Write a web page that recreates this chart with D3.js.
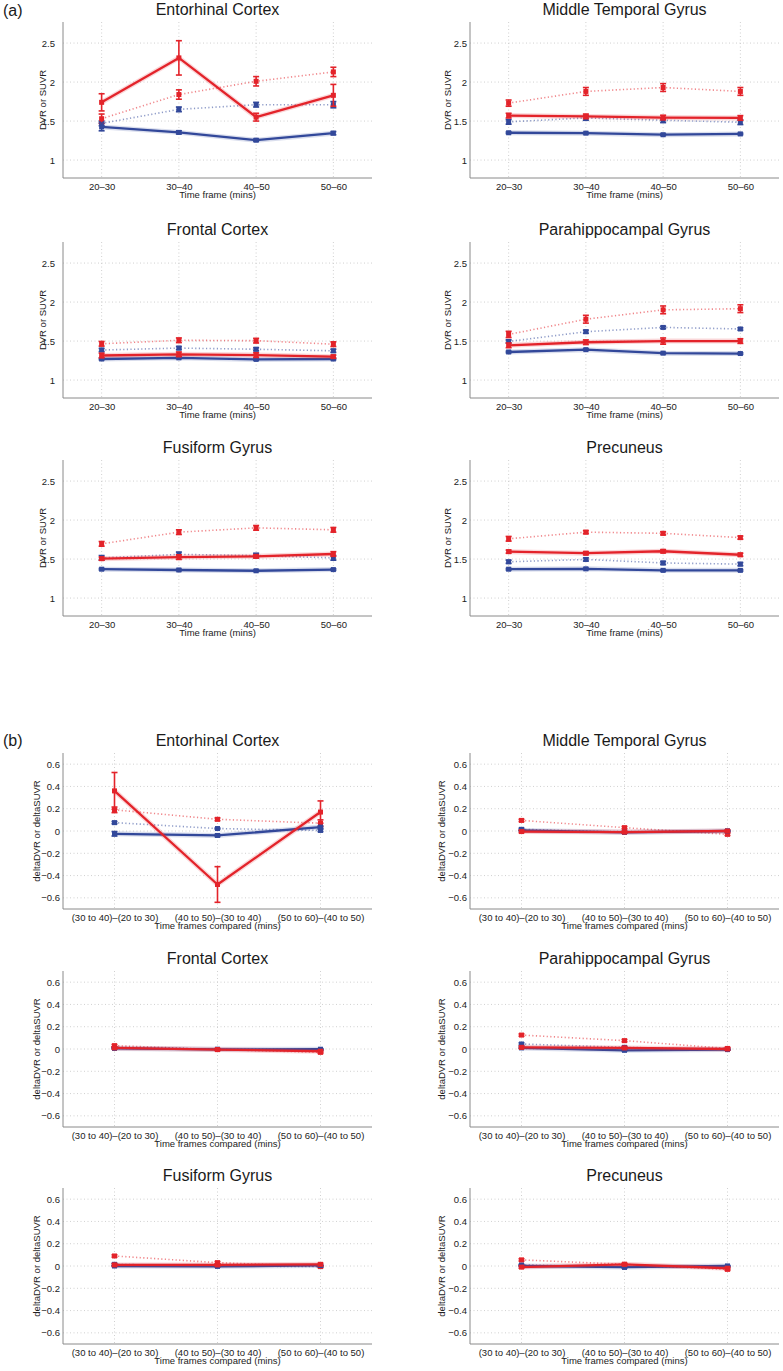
<!DOCTYPE html>
<html><head><meta charset="utf-8">
<script src="https://cdn.jsdelivr.net/npm/d3@7"></script>
<style>
body{margin:0;background:#fff;}
svg{display:block;font-family:"Liberation Sans",Arial,Helvetica,sans-serif;}
</style></head>
<body><svg id="c" width="783" height="1371"></svg>
<script>
// ---------- data ----------
const regions = ["Entorhinal Cortex","Middle Temporal Gyrus","Frontal Cortex","Parahippocampal Gyrus","Fusiform Gyrus","Precuneus"];
const timeFrames = ["20–30","30–40","40–50","50–60"];
const comparisons = ["(30 to 40)–(20 to 30)","(40 to 50)–(30 to 40)","(50 to 60)–(40 to 50)"];
const yTicksA = [1,1.5,2,2.5];
const yTicksB = [-0.6,-0.4,-0.2,0,0.2,0.4,0.6];

// (a) DVR / SUVR values per region
const redSolidA = [[1.74,2.31,1.55,1.83],[1.57,1.56,1.545,1.54],[1.315,1.33,1.32,1.30],[1.445,1.485,1.50,1.50],[1.505,1.525,1.535,1.565],[1.595,1.575,1.60,1.555]];
const redSolidErrA = [[0.11,0.22,0.05,0.14],[0.03,0.03,0.03,0.03],[0.03,0.03,0.03,0.02],[0.03,0.03,0.04,0.03],[0.02,0.03,0.02,0.03],[0.02,0.02,0.02,0.02]];
const redDotA = [[1.53,1.84,2.01,2.13],[1.73,1.88,1.93,1.88],[1.465,1.51,1.505,1.46],[1.585,1.78,1.90,1.915],[1.695,1.845,1.90,1.875],[1.76,1.845,1.83,1.775]];
const redDotErrA = [[0.06,0.06,0.06,0.06],[0.04,0.05,0.05,0.05],[0.03,0.03,0.03,0.03],[0.04,0.05,0.05,0.05],[0.03,0.03,0.03,0.03],[0.03,0.02,0.02,0.02]];
const blueDotA = [[1.47,1.65,1.71,1.71],[1.49,1.54,1.51,1.485],[1.385,1.41,1.395,1.375],[1.495,1.62,1.675,1.655],[1.515,1.56,1.545,1.515],[1.465,1.495,1.45,1.435]];
const blueDotErrA = [[0.03,0.03,0.03,0.04],[0.03,0.03,0.03,0.03],[0.02,0.02,0.02,0.02],[0.02,0.02,0.015,0.015],[0.03,0.03,0.03,0.03],[0.02,0.02,0.02,0.02]];
const blueSolidA = [[1.425,1.355,1.255,1.345],[1.35,1.345,1.325,1.335],[1.27,1.285,1.265,1.27],[1.36,1.39,1.345,1.34],[1.37,1.36,1.35,1.365],[1.37,1.375,1.355,1.355]];
const blueSolidErrA = [[0.05,0.02,0.015,0.02],[0.01,0.01,0.01,0.01],[0.01,0.01,0.01,0.01],[0.01,0.01,0.01,0.01],[0.01,0.01,0.01,0.01],[0.01,0.01,0.01,0.01]];

// (b) delta values per region
const redSolidB = [[0.36,-0.48,0.17],[-0.005,-0.01,0.0],[0.01,-0.005,-0.02],[0.015,0.01,0.0],[0.01,0.01,0.015],[-0.01,0.015,-0.02]];
const redSolidErrB = [[0.165,0.16,0.1],[0.01,0.01,0.01],[0.01,0.01,0.01],[0.01,0.01,0.01],[0.01,0.01,0.01],[0.01,0.01,0.01]];
const redDotB = [[0.19,0.105,0.07],[0.095,0.03,-0.03],[0.03,-0.005,-0.03],[0.125,0.075,0.005],[0.09,0.03,-0.005],[0.055,0.015,-0.03]];
const redDotErrB = [[0.025,0.012,0.03],[0.01,0.01,0.01],[0.01,0.005,0.01],[0.01,0.01,0.01],[0.01,0.01,0.01],[0.01,0.005,0.01]];
const blueDotB = [[0.075,0.022,0.005],[0.015,-0.01,0.0],[0.015,-0.003,-0.005],[0.045,0.015,-0.005],[0.015,0.0,-0.005],[0.01,-0.012,-0.003]];
const blueDotErrB = [[0.01,0.005,0.01],[0.01,0.005,0.005],[0.005,0.005,0.005],[0.01,0.01,0.005],[0.01,0.005,0.005],[0.005,0.005,0.005]];
const blueSolidB = [[-0.025,-0.04,0.035],[0.005,-0.012,0.0],[0.005,-0.003,-0.002],[0.01,-0.012,-0.005],[0.0,-0.003,0.005],[0.0,-0.01,0.0]];
const blueSolidErrB = [[0.02,0.01,0.01],[0.005,0.005,0.005],[0.005,0.005,0.005],[0.005,0.005,0.005],[0.005,0.005,0.005],[0.005,0.005,0.005]];

// ---------- drawing ----------
const RED = "#e3232a", BLUE = "#32489a";
const svg = d3.select("#c");
const colX = [63, 470];
const plotW = 309, plotH = 156;
const topsA = [22, 242, 460];
const topsB = [753, 971, 1188];

function fmt(v){ const s = d3.format("")(+v.toFixed(2)); return s.replace("-", "–"); }

function panel(opts){
  const {x0, y0, title, cats, domain, ticks, ylabel, xlabel, series, tickGap} = opts;
  const g = svg.append("g").attr("transform", `translate(${x0},${y0})`);
  const x = d3.scaleLinear().domain([0.5, cats.length + 0.5]).range([0, plotW]);
  const y = d3.scaleLinear().domain(domain).range([plotH, 0]);
  // grid
  g.append("g").selectAll("line").data(ticks).join("line")
    .attr("x1",0).attr("x2",plotW).attr("y1",d=>y(d)).attr("y2",d=>y(d))
    .attr("stroke","#c4c4c4").attr("stroke-width",0.8).attr("stroke-dasharray","1,2.5");
  g.append("g").selectAll("line").data(cats.map((c,i)=>i+1)).join("line")
    .attr("y1",0).attr("y2",plotH).attr("x1",d=>x(d)).attr("x2",d=>x(d))
    .attr("stroke","#c4c4c4").attr("stroke-width",0.8).attr("stroke-dasharray","1,2.5");
  // axes
  const ya = d3.axisLeft(y).tickValues(ticks).tickSize(0).tickPadding(tickGap).tickFormat(fmt);
  const ag = g.append("g").call(ya);
  ag.select(".domain").attr("stroke","#8a8a8a").attr("stroke-width",1).attr("d",`M0,0V${plotH}`);
  ag.selectAll("text").attr("font-size",9.5).attr("fill","#222").attr("font-family","Liberation Sans, Arial, sans-serif");
  const xa = d3.axisBottom(x).tickValues(cats.map((c,i)=>i+1)).tickSize(0).tickPadding(5).tickFormat((d)=>cats[d-1]);
  const bg = g.append("g").attr("transform",`translate(0,${plotH})`).call(xa);
  bg.select(".domain").attr("stroke","#8a8a8a").attr("stroke-width",1).attr("d",`M0,0H${plotW}`);
  bg.selectAll("text").attr("font-size",9.5).attr("fill","#222").attr("font-family","Liberation Sans, Arial, sans-serif");
  // labels
  g.append("text").attr("x",plotW/2).attr("y",-7).attr("text-anchor","middle")
    .attr("font-size",16).attr("fill","#1a1a1a").text(title);
  g.append("text").attr("x",plotW/2).attr("y",plotH+20).attr("text-anchor","middle")
    .attr("font-size",9.5).attr("fill","#222").text(xlabel);
  g.append("text").attr("transform",`translate(${opts.ylabelX},${plotH/2}) rotate(-90)`)
    .attr("text-anchor","middle").attr("dy","0.35em").attr("font-size",9.5).attr("fill","#222").text(ylabel);
  // series
  const line = d3.line().x((d,i)=>x(i+1)).y(d=>y(d));
  series.forEach(s=>{
    const sg = g.append("g");
    if (s.dotted){
      sg.append("path").attr("d", line(s.v)).attr("fill","none").attr("stroke",s.c)
        .attr("stroke-width",1.6).attr("stroke-dasharray","1.2,2.4").attr("opacity",0.55);
    } else {
      sg.append("path").attr("d", line(s.v)).attr("fill","none").attr("stroke",s.c)
        .attr("stroke-width",5).attr("opacity",0.18).attr("stroke-linejoin","round");
      sg.append("path").attr("d", line(s.v)).attr("fill","none").attr("stroke",s.c)
        .attr("stroke-width",2.3).attr("stroke-linejoin","round");
    }
    s.v.forEach((v,i)=>{
      const cx = x(i+1), e = s.e[i];
      const yt = y(v+e), yb = y(v-e);
      sg.append("line").attr("x1",cx).attr("x2",cx).attr("y1",yt).attr("y2",yb).attr("stroke",s.c).attr("stroke-width",1.6);
      [yt,yb].forEach(yy=> sg.append("line").attr("x1",cx-3).attr("x2",cx+3).attr("y1",yy).attr("y2",yy).attr("stroke",s.c).attr("stroke-width",1.6));
      sg.append("rect").attr("x",cx-2.5).attr("y",y(v)-2.5).attr("width",5).attr("height",5).attr("fill",s.c);
    });
  });
}

// panel labels
svg.append("text").attr("x",3).attr("y",16).attr("font-size",16).attr("fill","#1a1a1a").text("(a)");
svg.append("text").attr("x",3).attr("y",746).attr("font-size",16).attr("fill","#1a1a1a").text("(b)");

regions.forEach((r,k)=>{
  const col = k % 2, row = Math.floor(k/2);
  panel({x0: colX[col], y0: topsA[row], title: r, cats: timeFrames, domain:[0.77,2.77], ticks: yTicksA,
    ylabel:"DVR or SUVR", xlabel:"Time frame (mins)", tickGap: col===0?8:3, ylabelX: col===0?-20:-22,
    series:[
      {v: blueDotA[k], e: blueDotErrA[k], c: BLUE, dotted:true},
      {v: redDotA[k], e: redDotErrA[k], c: RED, dotted:true},
      {v: blueSolidA[k], e: blueSolidErrA[k], c: BLUE},
      {v: redSolidA[k], e: redSolidErrA[k], c: RED}
    ]});
  panel({x0: colX[col], y0: topsB[row], title: r, cats: comparisons, domain:[-0.7,0.7], ticks: yTicksB,
    ylabel:"deltaDVR or deltaSUVR", xlabel:"Time frames compared (mins)", tickGap: 3, ylabelX: col===0?-26:-28,
    series:[
      {v: blueDotB[k], e: blueDotErrB[k], c: BLUE, dotted:true},
      {v: redDotB[k], e: redDotErrB[k], c: RED, dotted:true},
      {v: blueSolidB[k], e: blueSolidErrB[k], c: BLUE},
      {v: redSolidB[k], e: redSolidErrB[k], c: RED}
    ]});
});
</script></body></html>
